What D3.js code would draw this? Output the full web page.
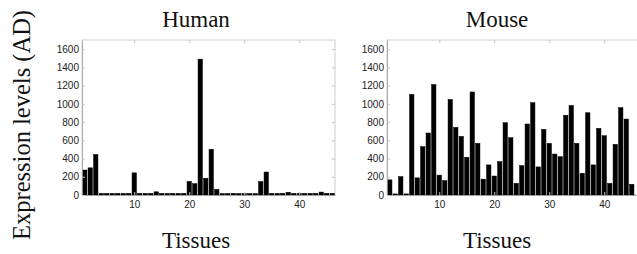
<!DOCTYPE html>
<html>
<head>
<meta charset="utf-8">
<script src="https://cdn.jsdelivr.net/npm/d3@7"></script>
<style>
  body { margin: 0; background: white; }
  .tick text { font-family: "Liberation Sans", Arial, sans-serif; }
</style>
</head>
<body>
<div id="chart"></div>
<script>
  // tissue index 1..46, expression levels
  var humanValues = [274, 298, 444, 18, 18, 18, 18, 18, 18, 243,
                     18, 18, 18, 35, 18, 18, 18, 18, 18, 150,
                     124, 1490, 184, 502, 60, 16, 16, 18, 16, 16,
                     16, 16, 148, 252, 18, 18, 18, 30, 18, 18,
                     18, 18, 18, 32, 18, 18];
  var mouseValues = [166, 12, 201, 12, 1103, 188, 530, 680, 1212, 218,
                     158, 1048, 742, 643, 414, 1130, 567, 174, 330, 208,
                     366, 793, 628, 128, 322, 779, 1012, 308, 720, 566,
                     449, 420, 874, 982, 566, 238, 902, 330, 731, 650,
                     128, 556, 958, 833, 118];
  var xTicks = [10, 20, 30, 40];
  var yTicks = [0, 200, 400, 600, 800, 1000, 1200, 1400, 1600];
  var yMax = 1700;

  var width = 637, height = 254;

  var svg = d3.select("#chart")
    .append("svg")
    .attr("width", width)
    .attr("height", height)
    .style("display", "block");

  var yScale = d3.scaleLinear().domain([0, yMax]).range([195, 40]);

  function drawPanel(values, x0, x1, title, titleX) {
    var xScale = d3.scaleLinear().domain([0.5, 46.5]).range([x0, x1]);
    var bw = (xScale(1) - xScale(0)) * 0.8;
    var g = svg.append("g");

    // light box round the axes
    g.append("rect")
      .attr("x", x0)
      .attr("y", yScale(yMax))
      .attr("width", x1 - x0)
      .attr("height", yScale(0) - yScale(yMax))
      .attr("fill", "none")
      .attr("stroke", "#c4c4c4")
      .attr("stroke-width", 0.8);

    // ticks along top and right (inside, matlab style)
    g.append("g")
      .attr("transform", "translate(0," + yScale(yMax) + ")")
      .call(d3.axisTop(xScale).tickValues(xTicks).tickSize(-3).tickFormat(""))
      .call(function (a) { a.select(".domain").remove(); a.selectAll("line").attr("stroke", "#c4c4c4"); });
    g.append("g")
      .attr("transform", "translate(" + x1 + ",0)")
      .call(d3.axisRight(yScale).tickValues(yTicks).tickSize(-3).tickFormat(""))
      .call(function (a) { a.select(".domain").remove(); a.selectAll("line").attr("stroke", "#c4c4c4"); });

    // bars
    g.selectAll(".bar").data(values).enter()
      .append("rect")
      .attr("class", "bar")
      .attr("x", function (d, i) { return xScale(i + 1) - bw / 2; })
      .attr("y", function (d) { return yScale(d); })
      .attr("width", bw)
      .attr("height", function (d) { return yScale(0) - yScale(d); })
      .attr("fill", "#000")
      .attr("stroke", "#000")
      .attr("stroke-width", 0.5);

    // bottom and left axes
    g.append("g")
      .attr("transform", "translate(0," + yScale(0) + ")")
      .call(d3.axisBottom(xScale).tickValues(xTicks).tickFormat(d3.format("d"))
        .tickSize(-3).tickSizeOuter(0).tickPadding(6))
      .call(function (a) {
        a.select(".domain").attr("stroke", "#9a9a9a").attr("stroke-width", 0.8);
        a.selectAll("line").attr("stroke", "#c4c4c4");
        a.selectAll("text").attr("font-size", "10px").attr("fill", "#222");
      });
    g.append("g")
      .attr("transform", "translate(" + x0 + ",0)")
      .call(d3.axisLeft(yScale).tickValues(yTicks).tickFormat(d3.format("d"))
        .tickSize(-3).tickSizeOuter(0).tickPadding(3))
      .call(function (a) {
        a.select(".domain").attr("stroke", "#9a9a9a").attr("stroke-width", 0.8);
        a.selectAll("line").attr("stroke", "#c4c4c4");
        a.selectAll("text").attr("font-size", "10px").attr("fill", "#222");
      });

    // title and x label
    svg.append("text")
      .attr("x", titleX)
      .attr("y", 27)
      .attr("text-anchor", "middle")
      .attr("font-family", "Liberation Serif, serif")
      .attr("font-size", "23px")
      .attr("fill", "#111")
      .text(title);
    svg.append("text")
      .attr("x", titleX)
      .attr("y", 248)
      .attr("text-anchor", "middle")
      .attr("font-family", "Liberation Serif, serif")
      .attr("font-size", "23px")
      .attr("fill", "#111")
      .text("Tissues");
  }

  drawPanel(humanValues, 82, 335, "Human", 196);
  drawPanel(mouseValues, 387, 640, "Mouse", 497);

  // shared y label
  svg.append("text")
    .attr("transform", "translate(30,125) rotate(-90)")
    .attr("text-anchor", "middle")
    .attr("font-family", "Liberation Serif, serif")
    .attr("font-size", "24.5px")
    .attr("fill", "#111")
    .text("Expression levels (AD)");
</script>
</body>
</html>
